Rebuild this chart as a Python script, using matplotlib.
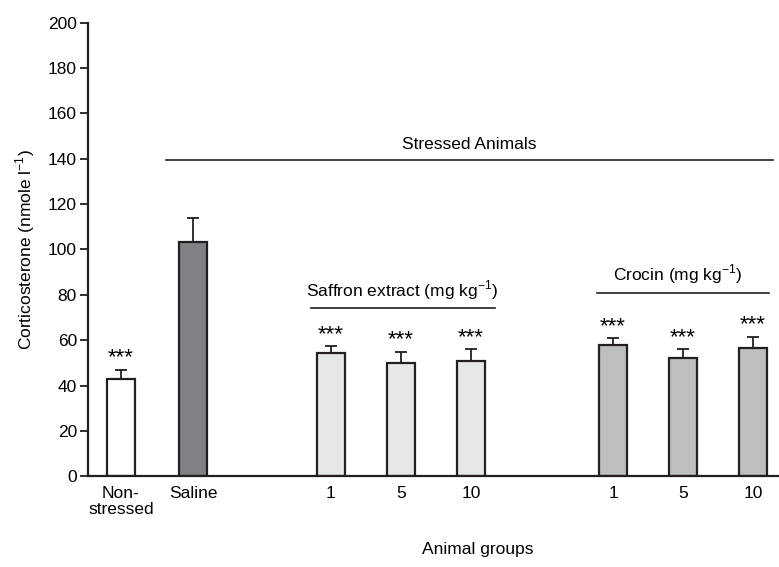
import matplotlib
matplotlib.use('Agg')
import matplotlib.pyplot as plt

plt.rcParams['font.family'] = ['Liberation Sans', 'DejaVu Sans']
plt.rcParams['mathtext.fontset'] = 'custom'
plt.rcParams['mathtext.rm'] = 'Liberation Sans'

# data
groups = ['Non-\nstressed', 'Saline', '1', '5', '10', '1', '5', '10']
means = [43, 103.5, 54.5, 50, 51, 58, 52, 56.5]
errors = [4, 10.5, 3, 5, 5, 3, 4, 5]
stars = ['***', '', '***', '***', '***', '***', '***', '***']
colors = ['#ffffff', '#808184', '#e6e7e8', '#e6e7e8', '#e6e7e8',
          '#bcbec0', '#bcbec0', '#bcbec0']
xpos = [0, 1.03, 3, 4, 5, 7.03, 8.03, 9.03]

edge = '#231f20'
fs = 12.5

fig = plt.figure(figsize=(7.79, 5.67), dpi=100)
ax = fig.add_axes([0.113, 0.16, 0.887, 0.80])

ax.bar(xpos, means, width=0.41, color=colors, edgecolor=edge, linewidth=1.6, zorder=2)
ax.errorbar(xpos, means, yerr=[[0] * len(means), errors], fmt='none',
            ecolor=edge, elinewidth=1.3, capsize=4.5, capthick=1.3, zorder=1)

for x, m, e, s in zip(xpos, means, errors, stars):
    if s:
        ax.text(x, m + e + 0.5, s, ha='center', va='bottom', fontsize=16)

# group bars and labels
ax.plot([0.64, 9.31], [139.5, 139.5], color=edge, lw=1.2, clip_on=False)
ax.text(4.97, 143, 'Stressed Animals', ha='center', va='bottom', fontsize=fs)
ax.plot([2.71, 5.35], [74, 74], color=edge, lw=1.2, clip_on=False)
ax.text(4.02, 77, 'Saffron extract (mg kg$^{\\mathregular{-1}}$)', ha='center', va='bottom', fontsize=fs)
ax.plot([6.8, 9.26], [81, 81], color=edge, lw=1.2, clip_on=False)
ax.text(7.96, 84, 'Crocin (mg kg$^{\\mathregular{-1}}$)', ha='center', va='bottom', fontsize=fs)

ax.set_xlim(-0.47, 9.4)
ax.set_ylim(0, 200)
ax.set_yticks(range(0, 201, 20))
ax.set_xticks(xpos)
ax.set_xticklabels(groups, fontsize=fs, linespacing=1.05)
ax.tick_params(axis='x', length=0, pad=7)
ax.tick_params(axis='y', direction='out', length=6, width=1.3, labelsize=fs, color=edge, pad=2)

ax.spines['top'].set_visible(False)
ax.spines['right'].set_visible(False)
ax.spines['left'].set_linewidth(1.6)
ax.spines['bottom'].set_linewidth(1.6)
ax.spines['left'].set_color(edge)
ax.spines['bottom'].set_color(edge)

ax.set_ylabel('Corticosterone (nmole l$^{\\mathregular{-1}}$)', fontsize=fs, labelpad=8)
ax.set_xlabel('Animal groups', fontsize=fs)
ax.xaxis.set_label_coords(0.564, -0.145)

fig.savefig('out.png', dpi=100)
